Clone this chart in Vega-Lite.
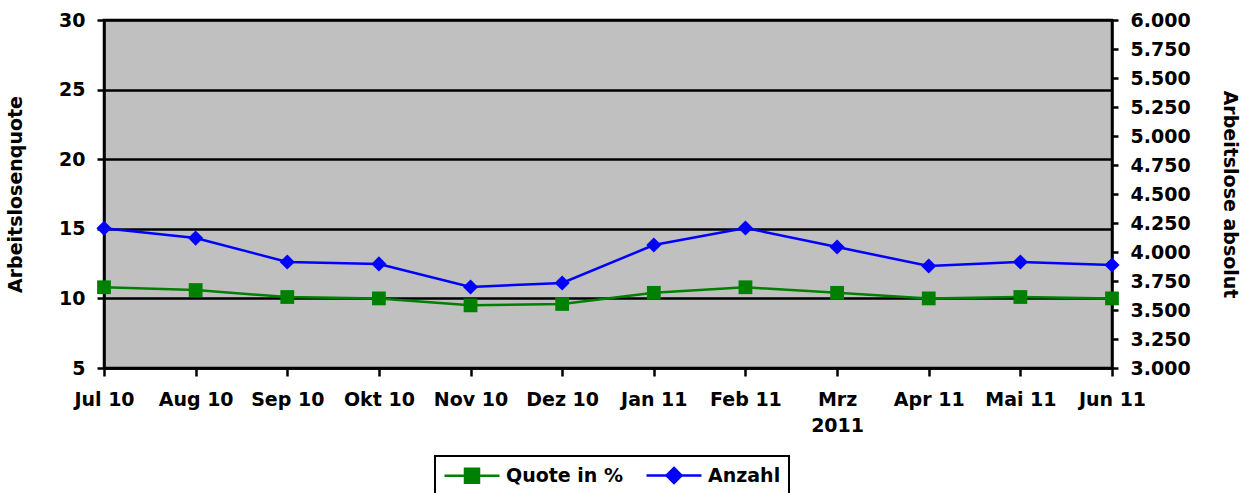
{
  "$schema": "https://vega.github.io/schema/vega-lite/v6.json",
  "width": 1008,
  "height": 348,
  "autosize": {"type": "none"},
  "padding": {"left": 104, "top": 20, "right": 141, "bottom": 125},
  "background": "white",
  "config": {
    "view": {"fill": "#C0C0C0", "stroke": "black", "strokeWidth": 2.5},
    "font": "DejaVu Sans",
    "axis": {
      "labelFont": "DejaVu Sans",
      "labelFontSize": 19,
      "labelFontWeight": "bold",
      "labelColor": "black",
      "titleFont": "DejaVu Sans",
      "titleFontSize": 19,
      "titleFontWeight": "bold",
      "titleColor": "black",
      "domainColor": "black",
      "domainWidth": 2.5,
      "tickColor": "black",
      "tickWidth": 2.5
    }
  },
  "data": {
    "values": [
      {"month": "Jul 10", "quote": 10.8, "anzahl": 4205},
      {"month": "Aug 10", "quote": 10.6, "anzahl": 4120},
      {"month": "Sep 10", "quote": 10.1, "anzahl": 3914},
      {"month": "Okt 10", "quote": 10.0, "anzahl": 3897},
      {"month": "Nov 10", "quote": 9.5, "anzahl": 3698},
      {"month": "Dez 10", "quote": 9.6, "anzahl": 3733},
      {"month": "Jan 11", "quote": 10.4, "anzahl": 4060},
      {"month": "Feb 11", "quote": 10.8, "anzahl": 4207},
      {"month": "Mrz 2011", "quote": 10.4, "anzahl": 4043},
      {"month": "Apr 11", "quote": 10.0, "anzahl": 3879},
      {"month": "Mai 11", "quote": 10.1, "anzahl": 3914},
      {"month": "Jun 11", "quote": 10.0, "anzahl": 3888}
    ]
  },
  "encoding": {
    "x": {
      "field": "month",
      "type": "ordinal",
      "sort": null,
      "scale": {"type": "point", "padding": 0},
      "axis": {
        "title": null,
        "labelAngle": 0,
        "tickSize": 8,
        "labelPadding": 14,
        "labelLineHeight": 26,
        "labelBaseline": "top",
        "grid": false,
        "labelExpr": "datum.value == 'Mrz 2011' ? ['Mrz', '2011'] : datum.value"
      }
    }
  },
  "layer": [
    {
      "mark": {
        "type": "line",
        "strokeWidth": 2.5,
        "point": {"filled": true, "shape": "square", "size": 190, "opacity": 1}
      },
      "encoding": {
        "y": {
          "field": "quote",
          "type": "quantitative",
          "scale": {"domain": [5, 30], "nice": false, "zero": false},
          "axis": {
            "title": "Arbeitslosenquote",
            "orient": "left",
            "values": [5, 10, 15, 20, 25, 30],
            "grid": true,
            "gridColor": "black",
            "gridWidth": 2.5,
            "gridOpacity": 1,
            "tickSize": 7,
            "labelPadding": 12,
            "titlePadding": 33
          }
        },
        "color": {
          "datum": "Quote in %",
          "scale": {"domain": ["Quote in %", "Anzahl"], "range": ["#008000", "#0000FF"]},
          "legend": {
            "orient": "none",
            "legendX": 331,
            "legendY": 436,
            "direction": "horizontal",
            "title": null,
            "padding": 8,
            "strokeColor": "black",
            "fillColor": "white",
            "columnPadding": 17,
            "labelFont": "DejaVu Sans",
            "labelFontSize": 19,
            "labelFontWeight": "bold",
            "labelColor": "black",
            "labelOffset": 40,
            "symbolSize": 400,
            "symbolStrokeWidth": 2.5,
            "encode": {
              "legend": {
                "update": {"strokeWidth": {"value": 2}}
              },
              "symbols": {
                "update": {
                  "shape": {"signal": "datum.label === 'Anzahl' ? 'M-1,0H4.5M1.75,-0.75L2.5,0L1.75,0.75L1,0Z' : 'M-1,0H4.5M1.05,-0.7H2.45V0.7H1.05Z'"},
                  "fill": {"signal": "datum.label === 'Anzahl' ? '#0000FF' : '#008000'"},
                  "stroke": {"signal": "datum.label === 'Anzahl' ? '#0000FF' : '#008000'"},
                  "opacity": {"value": 1},
                  "fillOpacity": {"value": 1}
                }
              }
            }
          }
        }
      }
    },
    {
      "mark": {
        "type": "line",
        "strokeWidth": 2.5,
        "point": {"filled": true, "shape": "diamond", "size": 230, "opacity": 1}
      },
      "encoding": {
        "y": {
          "field": "anzahl",
          "type": "quantitative",
          "scale": {"domain": [3000, 6000], "nice": false, "zero": false},
          "axis": {
            "title": "Arbeitslose absolut",
            "orient": "right",
            "values": [3000, 3250, 3500, 3750, 4000, 4250, 4500, 4750, 5000, 5250, 5500, 5750, 6000],
            "grid": false,
            "tickSize": 6,
            "labelPadding": 12,
            "titlePadding": 29,
            "labelExpr": "replace(format(datum.value, ','), ',', '.')"
          }
        },
        "color": {"datum": "Anzahl"}
      }
    }
  ],
  "resolve": {"scale": {"y": "independent"}}
}
